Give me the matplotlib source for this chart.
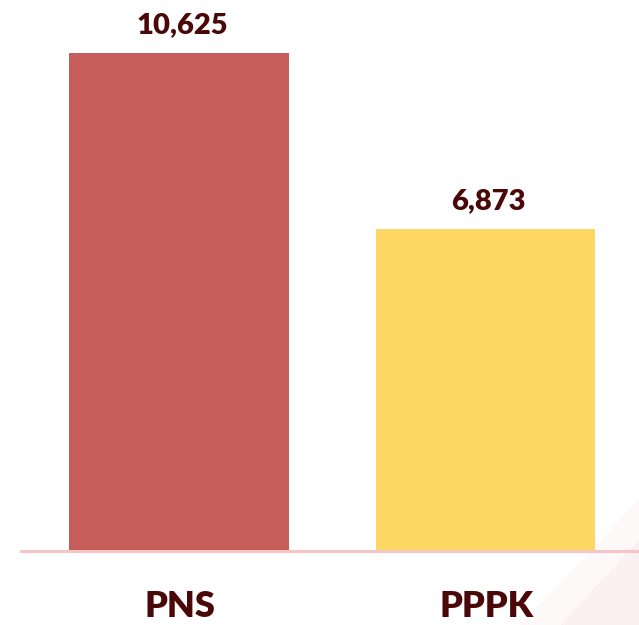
import matplotlib.pyplot as plt
from matplotlib.patches import Polygon

categories = ["PNS", "PPPK"]
values = [10625, 6873]
value_labels = ["10,625", "6,873"]
bar_colors = ["#C75D5B", "#FDD764"]

text_color = "#4A0808"

W, H = 639, 625
fig = plt.figure(figsize=(W / 100, H / 100), dpi=100, facecolor="white")

# faint pink wedge in the lower-right corner (background decoration)
bg = fig.add_axes([0, 0, 1, 1])
bg.set_xlim(0, W)
bg.set_ylim(H, 0)
bg.axis("off")
bg.add_patch(Polygon([(560, 625), (639, 540), (639, 625)], closed=True,
                     facecolor="#FCF1F1", edgecolor="none"))
bg.add_patch(Polygon([(520, 625), (639, 500), (639, 540), (560, 625)], closed=True,
                     facecolor="#FEF9F9", edgecolor="none"))

# main axes: baseline at y=551 px, left at x=21 px
ax = fig.add_axes([21 / W, (H - 551) / H, 1 - 21 / W, 551 / H])
ax.patch.set_alpha(0)
x = list(range(len(categories)))
bars = ax.bar(x, values, width=0.715, color=bar_colors, zorder=2)
ax.set_xlim(-0.515, 1.5)
ax.set_ylim(0, 11756)

ax.axhline(0, color="#F7C4C4", linewidth=2.2, zorder=3, clip_on=False)
for s in ax.spines.values():
    s.set_visible(False)
ax.set_yticks([])
ax.set_xticks([])

# category names under the baseline
for xi, cat in zip(x, categories):
    ax.annotate(cat, (xi, 0), xytext=(1, -66), textcoords="offset pixels",
                ha="center", va="baseline", fontsize=26, fontweight="heavy",
                color=text_color, family="Lato", annotation_clip=False)

# value labels above the bars
for b, lab in zip(bars, value_labels):
    ax.annotate(lab, (b.get_x() + b.get_width() / 2, b.get_height()),
                xytext=(3, 20), textcoords="offset pixels",
                ha="center", va="baseline", fontsize=21, fontweight="heavy",
                color=text_color, family="Lato")

fig.savefig("out.png", dpi=100, facecolor="white")
